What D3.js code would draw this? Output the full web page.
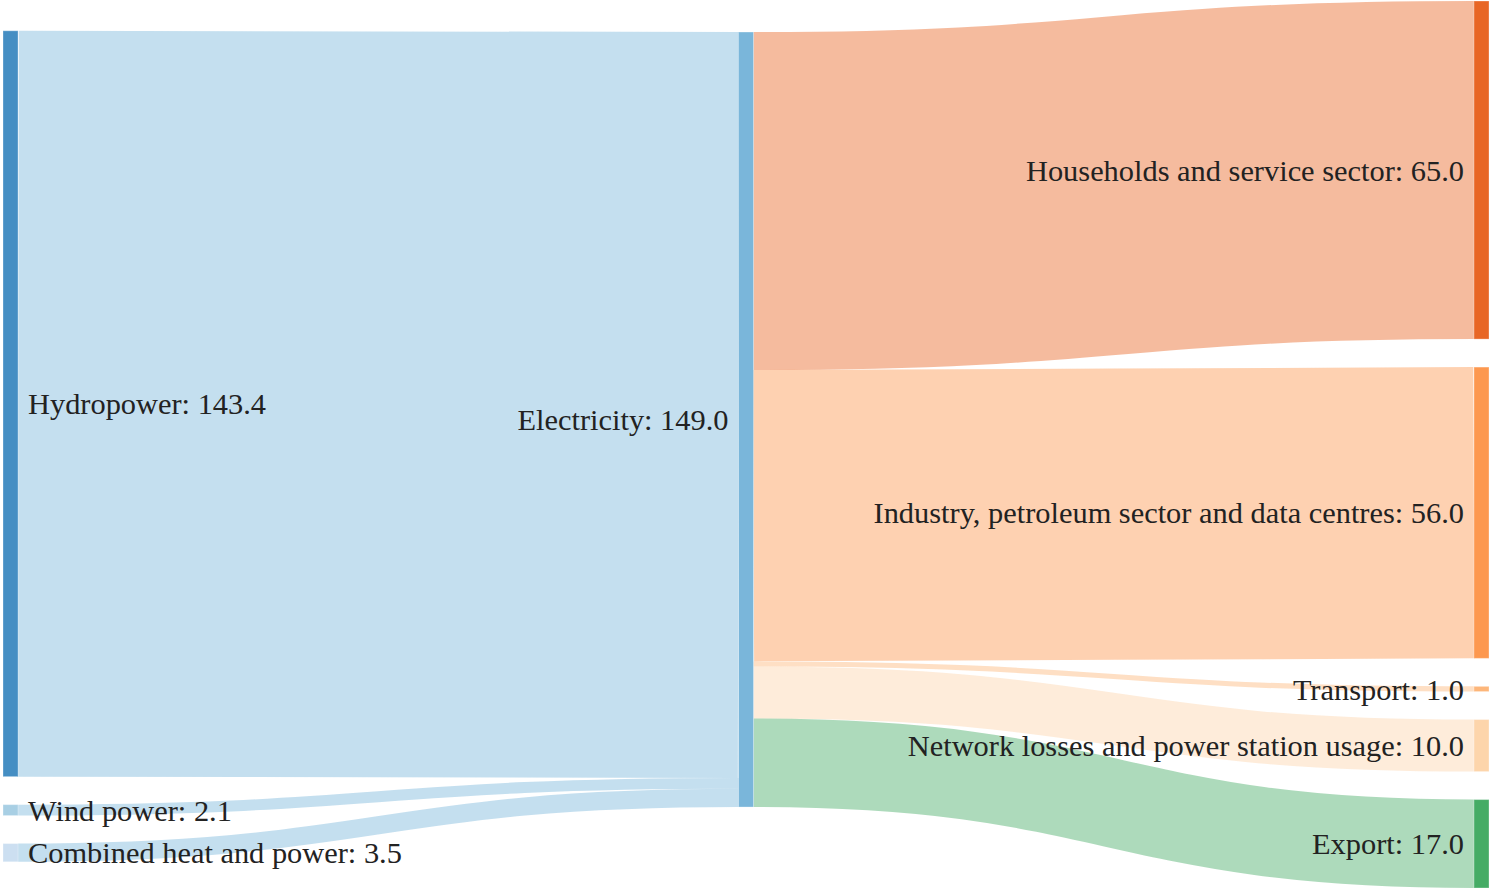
<!DOCTYPE html>
<html>
<head>
<meta charset="utf-8">
<title>Electricity Sankey</title>
<script src="https://cdn.jsdelivr.net/npm/d3@7"></script>
<style>
  body { margin: 0; background: #fff; }
  svg { display: block; }
</style>
</head>
<body>
<div id="chart"></div>
<script>
// data
const nodeNames = [
  "Hydropower",
  "Wind power",
  "Combined heat and power",
  "Electricity",
  "Households and service sector",
  "Industry, petroleum sector and data centres",
  "Transport",
  "Network losses and power station usage",
  "Export"
];
const linkSources = [0, 1, 2, 3, 3, 3, 3, 3];
const linkTargets = [3, 3, 3, 4, 5, 6, 7, 8];
const linkValues  = [143.4, 2.1, 3.5, 65.0, 56.0, 1.0, 10.0, 17.0];
const nodeColors = ["#3182bd", "#9ecae1", "#c6dbef", "#6baed6",
                    "#e6550d", "#fd8d3c", "#fdae6b", "#fdd0a2", "#31a354"];

const width = 1491, height = 891;
const extent = [[3, 1], [1489, 888]];
const nodeWidth = 15, nodePadding = 28, iterations = 32;

const svg = d3.select("#chart").append("svg")
  .attr("width", width)
  .attr("height", height);

// build graph
const nodes = nodeNames.map((name, i) => ({ name, index: i, color: nodeColors[i], sourceLinks: [], targetLinks: [] }));
const links = linkValues.map((v, i) => ({ source: nodes[linkSources[i]], target: nodes[linkTargets[i]], value: v, index: i }));
links.forEach(l => { l.source.sourceLinks.push(l); l.target.targetLinks.push(l); });
nodes.forEach(n => {
  n.value = Math.max(d3.sum(n.sourceLinks, l => l.value), d3.sum(n.targetLinks, l => l.value));
});

// depths
nodes.forEach(n => n.depth = 0);
let changed = true;
while (changed) {
  changed = false;
  links.forEach(l => {
    if (l.target.depth < l.source.depth + 1) { l.target.depth = l.source.depth + 1; changed = true; }
  });
}
const maxDepth = d3.max(nodes, n => n.depth);
nodes.forEach(n => n.layer = n.sourceLinks.length ? n.depth : maxDepth);

const x = d3.scaleLinear().domain([0, maxDepth]).range([extent[0][0], extent[1][0] - nodeWidth]);
nodes.forEach(n => { n.x0 = x(n.layer); n.x1 = n.x0 + nodeWidth; });

const columns = d3.groups(nodes, n => n.layer).sort((a, b) => a[0] - b[0]).map(g => g[1]);
const Y0 = extent[0][1], Y1 = extent[1][1];
const py = nodePadding;
const ky = d3.min(columns, c => (Y1 - Y0 - (c.length - 1) * py) / d3.sum(c, n => n.value));
const y = d3.scaleLinear().domain([0, 1]).range([0, ky]);

columns.forEach(col => col.forEach((n, i) => { n.y0 = i; n.y1 = i + y(n.value); }));
links.forEach(l => l.width = y(l.value));

// y0 of source giving a flat link to target, and the reverse
function sourceTop(s, t) {
  let yy = t.y0;
  for (const l of t.targetLinks) { if (l.source === s) break; yy += l.width; }
  for (const l of s.sourceLinks) { if (l.target === t) break; yy -= l.width; }
  return yy;
}
function targetTop(s, t) {
  let yy = s.y0;
  for (const l of s.sourceLinks) { if (l.target === t) break; yy += l.width; }
  for (const l of t.targetLinks) { if (l.source === s) break; yy -= l.width; }
  return yy;
}

// push overlapping nodes down, then back up if past the bottom (input order kept)
function resolveCollisions() {
  columns.forEach(col => {
    let yy = Y0, n, dy;
    for (let i = 0; i < col.length; ++i) {
      n = col[i];
      dy = yy - n.y0;
      if (dy > 0) { n.y0 += dy; n.y1 += dy; }
      yy = n.y1 + py;
    }
    dy = yy - py - Y1;
    if (dy > 0) {
      yy = (n.y0 -= dy); n.y1 -= dy;
      for (let i = col.length - 2; i >= 0; --i) {
        n = col[i];
        dy = n.y1 + py - yy;
        if (dy > 0) { n.y0 -= dy; n.y1 -= dy; }
        yy = n.y0;
      }
    }
  });
}

function relaxRightToLeft(alpha) {
  columns.slice().reverse().forEach(col => col.forEach(s => {
    if (!s.sourceLinks.length) return;
    const t = d3.sum(s.sourceLinks, l => sourceTop(s, l.target) * l.value) / d3.sum(s.sourceLinks, l => l.value);
    const dy = (t - s.y0) * alpha;
    s.y0 += dy; s.y1 += dy;
  }));
}

function relaxLeftToRight(alpha) {
  columns.forEach(col => col.forEach(t => {
    if (!t.targetLinks.length) return;
    const v = d3.sum(t.targetLinks, l => targetTop(l.source, t) * l.value) / d3.sum(t.targetLinks, l => l.value);
    const dy = (v - t.y0) * alpha;
    t.y0 += dy; t.y1 += dy;
  }));
}

resolveCollisions();
for (let alpha = 1, k = iterations; k > 0; --k) {
  relaxRightToLeft(alpha *= 0.99);
  resolveCollisions();
  relaxLeftToRight(alpha);
  resolveCollisions();
}

// link breadths
nodes.forEach(n => {
  n.sourceLinks.sort((a, b) => a.target.y0 - b.target.y0);
  n.targetLinks.sort((a, b) => a.source.y0 - b.source.y0);
});
nodes.forEach(n => {
  let a = n.y0, b = n.y0;
  n.sourceLinks.forEach(l => { l.y0 = a + l.width / 2; a += l.width; });
  n.targetLinks.forEach(l => { l.y1 = b + l.width / 2; b += l.width; });
});

const linkPath = d3.linkHorizontal()
  .source(d => [d.source.x1, d.y0])
  .target(d => [d.target.x0, d.y1]);

// links
svg.append("g")
  .attr("fill", "none")
  .selectAll("path")
  .data(links)
  .join("path")
  .attr("d", linkPath)
  .attr("stroke", d => d.target.color)
  .attr("stroke-opacity", 0.4)
  .attr("stroke-width", d => Math.max(1, d.width));

// nodes
svg.append("g")
  .selectAll("rect")
  .data(nodes)
  .join("rect")
  .attr("x", d => d.x0)
  .attr("y", d => d.y0)
  .attr("width", d => d.x1 - d.x0)
  .attr("height", d => Math.max(1, d.y1 - d.y0))
  .attr("fill", d => d.color)
  .attr("fill-opacity", 0.9)
  .attr("stroke", "#fff")
  .attr("stroke-opacity", 0.3)
  .attr("stroke-width", 1);

// labels
const fmt = d3.format(".1f");
svg.append("g")
  .style("font-family", "'Liberation Serif', 'Times New Roman', serif")
  .style("font-size", "30.4px")
  .attr("fill", "#222")
  .selectAll("text")
  .data(nodes)
  .join("text")
  .attr("x", d => d.layer === 0 ? d.x1 + 10 : d.x0 - 10)
  .attr("y", d => (d.y0 + d.y1) / 2)
  .attr("dy", "0.35em")
  .attr("text-anchor", d => d.layer === 0 ? "start" : "end")
  .text(d => `${d.name}: ${fmt(d.value)}`);
</script>
</body>
</html>
